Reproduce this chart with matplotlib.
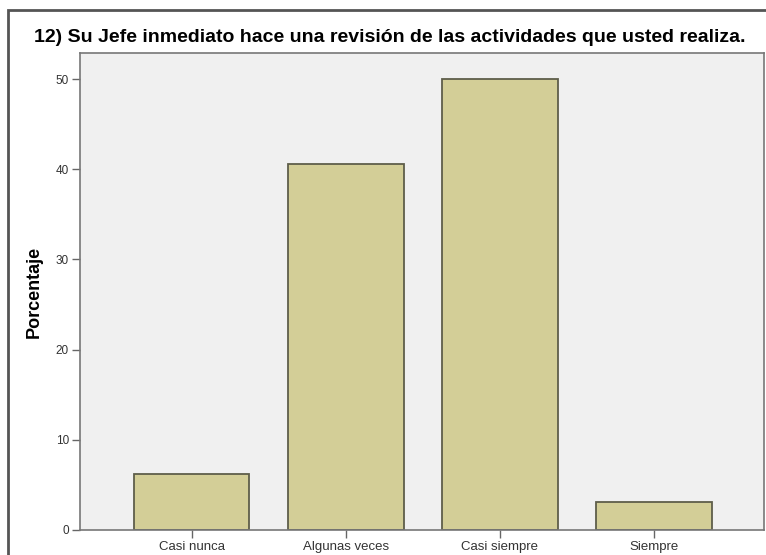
import matplotlib
matplotlib.use('Agg')
import matplotlib.pyplot as plt
from matplotlib.patches import Rectangle

categorias = ['Casi nunca', 'Algunas veces', 'Casi siempre', 'Siempre']
porcentaje = [6.25, 40.625, 50.0, 3.125]
ticks_y = [0, 10, 20, 30, 40, 50]

plt.rcParams['font.family'] = ['Liberation Sans', 'DejaVu Sans']

fig = plt.figure(figsize=(7.66, 5.55), dpi=100)
fig.patch.set_facecolor('white')

# marco exterior (tipo SPSS)
fig.patches.append(Rectangle((8 / 766, -0.2), 2, 1.2 - 10 / 555, transform=fig.transFigure,
                             fill=False, edgecolor='#555555', linewidth=2))

ax = fig.add_axes([80 / 766, 1 - 530 / 555, 684 / 766, 477 / 555])
ax.set_facecolor('#F0F0F0')
x = range(len(categorias))
ax.bar(x, porcentaje, width=0.75, color='#D3CE97', edgecolor='#5E5E4A', linewidth=1.3, zorder=2)

ax.set_xlim(-0.725, 3.715)
ax.set_ylim(0, 52.9)
ax.set_xticks(list(x))
ax.set_xticklabels(categorias, fontsize=9.5, color='#333333')
ax.set_yticks(ticks_y)
ax.set_yticklabels([str(t) for t in ticks_y], fontsize=8.5, color='#333333')
ax.tick_params(direction='out', length=6, width=1, color='#666666', pad=2)
for s in ax.spines.values():
    s.set_color('#777777')
    s.set_linewidth(1.2)
ax.set_ylabel('Porcentaje', fontsize=13, fontweight='bold')
ax.yaxis.set_label_coords(-37 / 684, 0.5)

fig.text(390 / 766, 1 - 38 / 555, '12) Su Jefe inmediato hace una revisión de las actividades que usted realiza.',
         ha='center', va='center', fontsize=14, fontweight='bold')

fig.savefig('out.png', dpi=100)
